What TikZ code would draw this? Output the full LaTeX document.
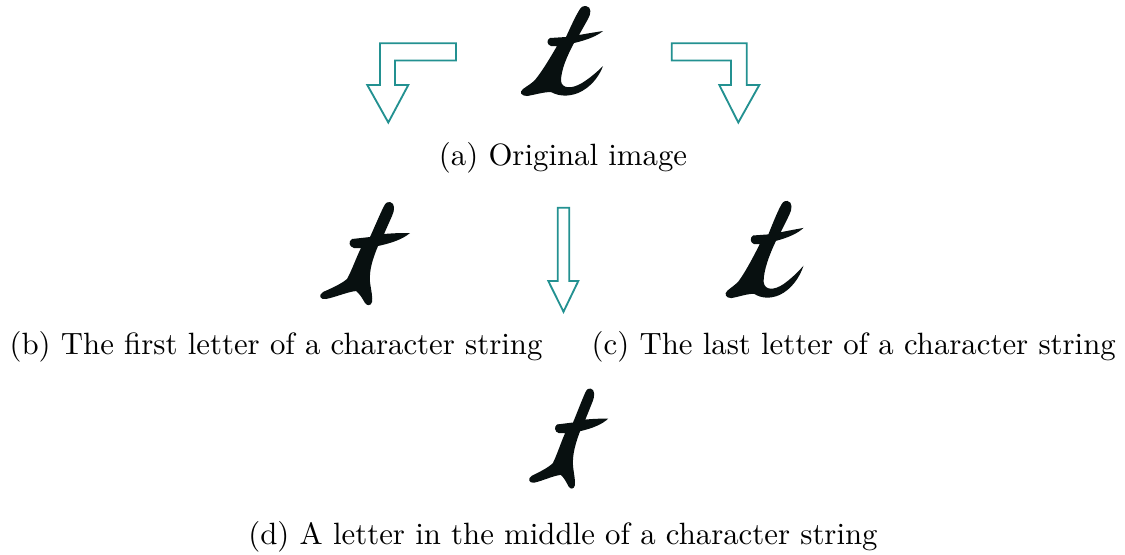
\documentclass[tikz,border=0pt]{standalone}
\definecolor{arrowteal}{RGB}{35,145,145}
\definecolor{ink}{RGB}{8,16,16}
\newcommand\drawHookT[1]{%
\begin{scope}[#1]
\fill[letter] (586,6) .. controls (592,7) and (591,14) .. (588,19) -- (579,35)
  .. controls (590,33) and (597,32) .. (603,31)
  .. controls (597,36) and (587,40) .. (574,43)
  .. controls (567,56) and (561,70) .. (561,81)
  .. controls (562,89) and (572,89) .. (582,83)
  .. controls (590,78) and (597,72) .. (603,66)
  .. controls (599,77) and (590,88) .. (578,93)
  .. controls (568,97) and (558,96) .. (551,92)
  .. controls (543,92) and (534,95) .. (527,96)
  .. controls (521,96) and (519,92) .. (523,89)
  .. controls (527,86) and (531,84) .. (535,80)
  .. controls (543,70) and (550,58) .. (557,46)
  -- (551,46) .. controls (547,45) and (546,40) .. (550,38) -- (566,37)
  .. controls (571,26) and (576,15) .. (580,9)
  .. controls (582,6) and (584,6) .. (586,6) -- cycle;
\end{scope}}
\newcommand\drawFootT[1]{%
\begin{scope}[#1]
\fill[letter] (390,202) .. controls (395,203) and (395,210) .. (392,216) -- (384,234)
  .. controls (395,233) and (403,233) .. (410,233)
  .. controls (403,239) and (392,243) .. (378,246)
  .. controls (373,258) and (369,270) .. (370,282)
  .. controls (371,290) and (373,298) .. (372,302)
  .. controls (371,306) and (367,306) .. (365,303)
  .. controls (362,298) and (360,294) .. (356,291)
  .. controls (347,292) and (336,297) .. (326,299)
  .. controls (320,300) and (318,295) .. (323,292)
  .. controls (332,288) and (341,284) .. (347,279)
  .. controls (352,270) and (356,258) .. (361,248)
  -- (354,248) .. controls (349,247) and (348,241) .. (352,239) -- (370,237)
  .. controls (375,226) and (380,214) .. (384,206)
  .. controls (386,202) and (388,202) .. (390,202) -- cycle;
\end{scope}}
\tikzset{
  letter/.style={fill=ink, draw=none},
  blockarrow/.style={draw=arrowteal, fill=white, line width=0.6pt, line join=miter},
  caption/.style={inner sep=0pt, font=\fontsize{10}{12}\selectfont}
}
\begin{document}
\begin{tikzpicture}[x=0.3247pt, y=-0.3247pt]
\useasboundingbox (0,0) rectangle (1125,554);
% letters
\drawHookT{}
\drawHookT{shift={(765.5,249.5)}, xscale=0.95, yscale=1.08, shift={(-563,-51)}}
\drawFootT{}
\drawFootT{shift={(569.5,438)}, xscale=0.88, yscale=0.97, shift={(-366,-253)}}
% block arrows
\draw[blockarrow] (456,43.3) -- (380,43.3) -- (380,85) -- (367.3,85) -- (388.3,122.5)
  -- (408.3,85) -- (395,85) -- (395,60.5) -- (456,60.5) -- cycle;
\draw[blockarrow] (671.7,43.3) -- (746.7,43.3) -- (746.7,85) -- (759.3,85) -- (738.3,122.5)
  -- (719.3,85) -- (731,85) -- (731,60.5) -- (671.7,60.5) -- cycle;
\draw[blockarrow] (557.7,207.7) -- (569.3,207.7) -- (569.3,281) -- (578.3,281)
  -- (563.5,311.7) -- (548.3,281) -- (557.7,281) -- cycle;
% captions
\node[caption, anchor=base] (capa) at (563,165) {(a) Original image};
\node[caption, anchor=base west] (capb) at (9,354) {(b) The first letter of a character string};
\node[caption, anchor=base west] (capc) at (591,354) {(c) The last letter of a character string};
\node[caption, anchor=base] (capd) at (563,544) {(d) A letter in the middle of a character string};
\end{tikzpicture}
\end{document}
